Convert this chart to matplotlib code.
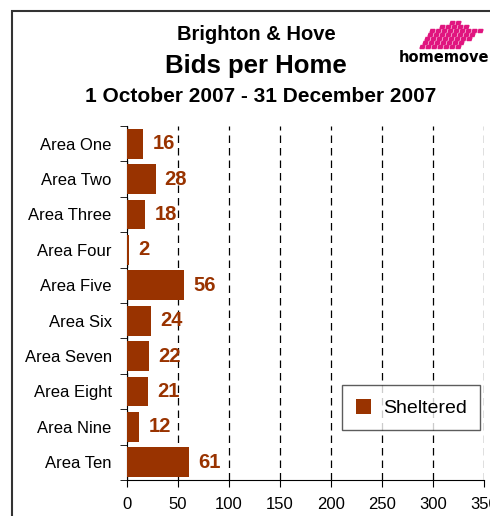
import matplotlib.pyplot as plt
from matplotlib.patches import Rectangle, Polygon
import numpy as np

plt.rcParams['font.family'] = ['Liberation Sans', 'DejaVu Sans']

areas = ['Area One', 'Area Two', 'Area Three', 'Area Four', 'Area Five',
         'Area Six', 'Area Seven', 'Area Eight', 'Area Nine', 'Area Ten']
bids = [16, 28, 18, 2, 56, 24, 22, 21, 12, 61]
xticks = [0, 50, 100, 150, 200, 250, 300, 350]

bar_col = '#993300'

fig = plt.figure(figsize=(4.90, 5.16), dpi=100)

# outer chart frame (cropped at right/bottom like the reference)
fig.patches.append(Rectangle((12 / 490, -0.1), 1.2, 1.1 - 11 / 516,
                             transform=fig.transFigure, fill=False,
                             edgecolor='#333333', linewidth=1.5))

ax = fig.add_axes([127 / 490, 1 - 480 / 516, (484 - 127) / 490, (480 - 126) / 516])
y = np.arange(len(areas))
ax.barh(y, bids, height=0.84, color=bar_col, label='Sheltered', zorder=3)
ax.set_ylim(len(areas) - 0.5, -0.5)
ax.set_xlim(0, 350)

for yi, v in zip(y, bids):
    ax.text(v + 9, yi, str(v), color=bar_col, fontsize=14.5, fontweight='bold',
            va='center', ha='left', zorder=4)

ax.set_xticks(xticks)
ax.set_xticklabels([str(t) for t in xticks], fontsize=12)
ax.set_yticks(y)
ax.set_yticklabels(areas, fontsize=12)
ax.set_yticks(np.arange(len(areas) + 1) - 0.5, minor=True)
ax.tick_params(axis='y', which='major', length=0, pad=11)
ax.tick_params(axis='y', which='minor', length=5, direction='out')
ax.tick_params(axis='x', length=5, direction='out', pad=7)
for s in ['top', 'right']:
    ax.spines[s].set_visible(False)
ax.xaxis.grid(True, linestyle=(0, (6, 4)), color='black', linewidth=0.9)
ax.set_axisbelow(True)

leg = ax.legend(loc='lower right', bbox_to_anchor=(0.99, 0.14), fontsize=14,
                frameon=True, fancybox=False, edgecolor='#333333',
                handlelength=0.8, handleheight=0.8, borderpad=0.7,
                handletextpad=0.6, borderaxespad=0)
leg.get_frame().set_linewidth(1.0)

fig.text(256 / 490, 1 - 34 / 516, 'Brighton & Hove', ha='center', va='center',
         fontsize=14.5, fontweight='bold')
fig.text(256 / 490, 1 - 66 / 516, 'Bids per Home', ha='center', va='center',
         fontsize=18.5, fontweight='bold')
fig.text(261 / 490, 1 - 97 / 516, '1 October 2007 - 31 December 2007',
         ha='center', va='center', fontsize=15, fontweight='bold')

# homemove logo
fig.text(399 / 490, 1 - 57 / 516, 'homemove', ha='left', va='center',
         fontsize=10.5, fontweight='heavy', color='black',
         family=['DejaVu Sans'])
logo = fig.add_axes([418 / 490, 1 - 52 / 516, 72 / 490, 32 / 516])
logo.set_xlim(418, 490)
logo.set_ylim(52, 20)
logo.axis('off')
rows = [(23, 450, 462), (27, 440, 470), (31, 430, 486), (35, 428, 476),
        (39, 425, 471), (43, 423, 468), (47, 420, 465)]
for yy, xa, xb in rows:
    xs = xa
    while xs + 4 <= xb:
        logo.add_patch(Polygon([(xs, yy + 1.5), (xs + 4, yy + 1.5),
                                (xs + 5, yy - 1.5), (xs + 1, yy - 1.5)],
                               closed=True, color='#e0157f'))
        xs += 6

fig.savefig('out.png', dpi=100)
